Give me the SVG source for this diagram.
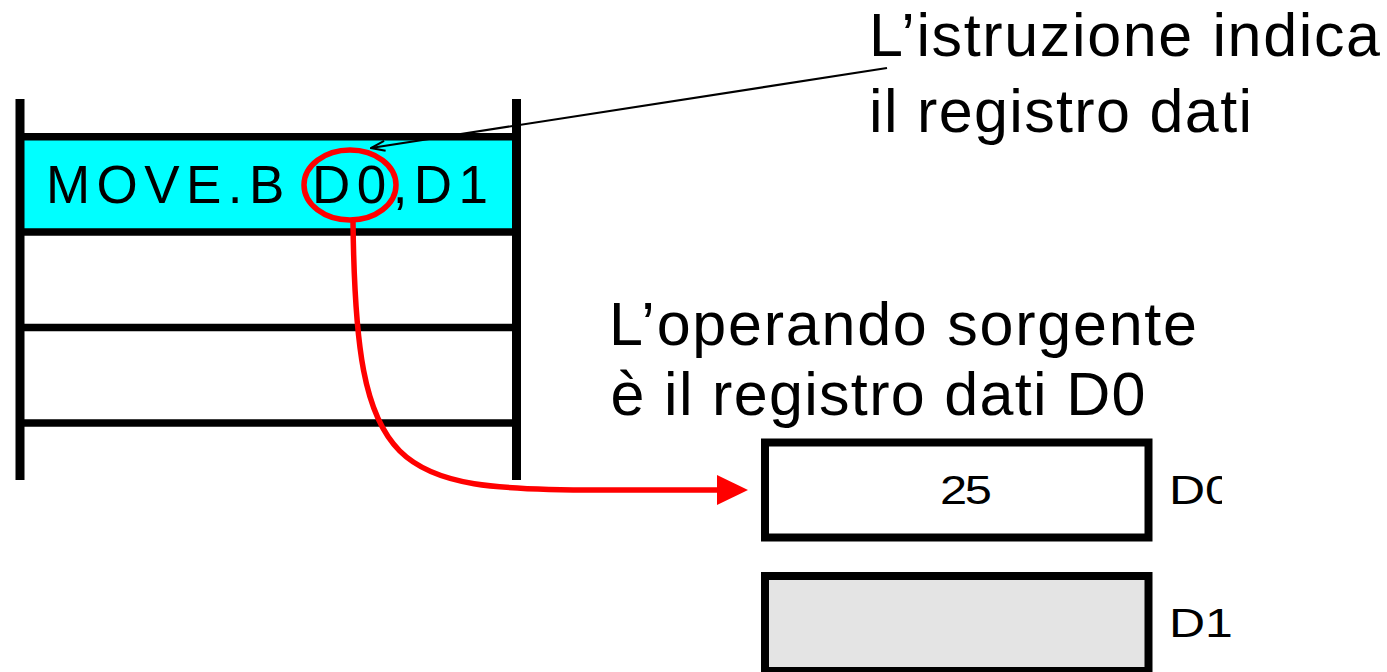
<svg xmlns="http://www.w3.org/2000/svg" width="1387" height="672" viewBox="0 0 1387 672">
  <style>
    .txt { font-family: "Liberation Sans", Arial, sans-serif; fill: #000; }
    .big { font-size: 61px; }
    .mid { font-size: 53px; }
    .small { font-size: 40px; }
    .rail { stroke: #000; stroke-width: 9; fill: none; }
    .row { stroke: #000; stroke-width: 7.5; fill: none; }
    .reg { stroke: #000; stroke-width: 8; }
  </style>
  <defs>
    <marker id="openHead" viewBox="0 0 16 12" refX="15" refY="6" markerWidth="16" markerHeight="12" markerUnits="userSpaceOnUse" orient="auto">
      <path d="M1,1 L15,6 L1,11" fill="none" stroke="#000" stroke-width="2"/>
    </marker>
    <clipPath id="d0clip" clipPathUnits="userSpaceOnUse">
      <rect x="1160" y="460" width="62" height="60"/>
    </clipPath>
  </defs>

  <rect width="1387" height="672" fill="#fff"/>

  <!-- memory: instruction word and following words -->
  <g id="memory">
    <rect x="20" y="137" width="496" height="95" fill="#00ffff"/>
    <line class="row" x1="20" y1="136.7" x2="516" y2="136.7"/>
    <line class="row" x1="20" y1="232" x2="516" y2="232"/>
    <line class="row" x1="20" y1="327.5" x2="516" y2="327.5"/>
    <line class="row" x1="20" y1="423" x2="516" y2="423"/>
    <line class="rail" x1="20" y1="99" x2="20" y2="480"/>
    <line class="rail" x1="516.5" y1="99" x2="516.5" y2="480"/>
    <text class="txt mid" x="46" y="203" textLength="442" lengthAdjust="spacing">MOVE.B D0,D1</text>
    <ellipse cx="350" cy="185" rx="46" ry="35" fill="none" stroke="#ff0000" stroke-width="5.5"/>
  </g>

  <!-- data register D0 (label cut off at the right) -->
  <g id="reg-d0">
    <rect class="reg" x="765" y="442.5" width="383.5" height="95" fill="#fff"/>
    <text class="txt small" transform="translate(940,504) scale(1.22,1)" letter-spacing="-2">25</text>
    <g clip-path="url(#d0clip)">
      <text class="txt small" transform="translate(1169,504) scale(1.25,1)">D0</text>
    </g>
  </g>

  <!-- data register D1 -->
  <g id="reg-d1">
    <rect class="reg" x="765" y="576" width="383.5" height="95" fill="#e4e4e4"/>
    <text class="txt small" transform="translate(1169,637) scale(1.25,1)">D1</text>
  </g>

  <!-- captions -->
  <g id="caption-instruction">
    <text class="txt big" x="869" y="56" textLength="511" lengthAdjust="spacing">L’istruzione indica</text>
    <text class="txt big" x="869" y="132" textLength="383" lengthAdjust="spacing">il registro dati</text>
  </g>
  <g id="caption-operand">
    <text class="txt big" x="609" y="345" textLength="588" lengthAdjust="spacing">L’operando sorgente</text>
    <text class="txt big" x="610.5" y="415" textLength="535" lengthAdjust="spacing">è il registro dati D0</text>
  </g>

  <!-- connectors -->
  <g id="connectors">
    <line x1="887" y1="68" x2="371" y2="148" stroke="#000" stroke-width="2.2" marker-end="url(#openHead)"/>
    <path d="M353,222 C356,475 392,490 600,490 L719,490" fill="none" stroke="#ff0000" stroke-width="5.5"/>
    <polygon points="717,475 748,490 717,505" fill="#ff0000"/>
  </g>
</svg>
